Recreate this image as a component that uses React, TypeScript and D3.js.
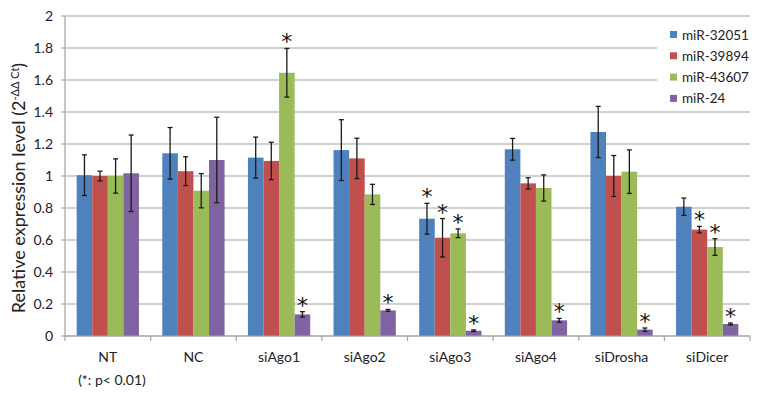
import React from "react";
import * as d3 from "d3";

const categories = ["NT", "NC", "siAgo1", "siAgo2", "siAgo3", "siAgo4", "siDrosha", "siDicer"];
const seriesNames = ["miR-32051", "miR-39894", "miR-43607", "miR-24"];
const colors = ["#4F81BD", "#C0504D", "#9BBB59", "#8064A2"];

const values32051 = [1.005, 1.142, 1.115, 1.162, 0.733, 1.167, 1.275, 0.808];
const values39894 = [1.0, 1.03, 1.094, 1.11, 0.614, 0.954, 1.0, 0.665];
const values43607 = [1.0, 0.908, 1.645, 0.885, 0.642, 0.925, 1.027, 0.556];
const values24 = [1.017, 1.1, 0.135, 0.16, 0.033, 0.098, 0.04, 0.075];

const err32051 = [0.127, 0.161, 0.128, 0.19, 0.096, 0.068, 0.16, 0.054];
const err39894 = [0.03, 0.09, 0.117, 0.126, 0.12, 0.035, 0.128, 0.02];
const err43607 = [0.107, 0.107, 0.152, 0.063, 0.027, 0.082, 0.136, 0.052];
const err24 = [0.239, 0.267, 0.017, 0.006, 0.005, 0.012, 0.01, 0.006];

const sig32051 = [0, 0, 0, 0, 1, 0, 0, 0];
const sig39894 = [0, 0, 0, 0, 1, 0, 0, 1];
const sig43607 = [0, 0, 1, 0, 1, 0, 0, 1];
const sig24 = [0, 0, 1, 1, 1, 1, 1, 1];

const yTicks = [0, 0.2, 0.4, 0.6, 0.8, 1, 1.2, 1.4, 1.6, 1.8, 2];
const yTickLabels = ["0", "0.2", "0.4", "0.6", "0.8", "1", "1.2", "1.4", "1.6", "1.8", "2"];

const allValues = [values32051, values39894, values43607, values24];
const allErrs = [err32051, err39894, err43607, err24];
const allSig = [sig32051, sig39894, sig43607, sig24];

const FONT = "Lato, 'Open Sans', sans-serif";

export default function App() {
  const W = 764, H = 400;
  const left = 65, right = 750, top = 16, bottom = 336;
  const x = d3.scaleBand<string>().domain(categories).range([left, right]).paddingInner(0).paddingOuter(0);
  const y = d3.scaleLinear().domain([0, 2]).range([bottom, top]);
  const step = x.bandwidth();
  const barW = step / 5.5;
  const offset = step * 0.75 / 5.5;

  const gridColor = "#A3A3A3";

  return (
    <svg width={W} height={H} style={{ position: "absolute", left: 0, top: 0, background: "#fff" }}>
      <rect x={0} y={0} width={W} height={H} fill="#fff" />
      {yTicks.map((t, i) => (
        <g key={"g" + i}>
          <line x1={left - 4} x2={right} y1={y(t)} y2={y(t)} stroke={gridColor} strokeWidth={1.2} />
          <text x={53} y={y(t) + 5} textAnchor="end" fontFamily={FONT} fontSize={14} fill="#222">
            {yTickLabels[i]}
          </text>
        </g>
      ))}
      <line x1={left} x2={left} y1={top} y2={bottom} stroke={gridColor} strokeWidth={1.2} />
      {d3.range(categories.length + 1).map((i) => (
        <line key={"xt" + i} x1={left + i * step} x2={left + i * step} y1={bottom} y2={bottom + 5} stroke={gridColor} strokeWidth={1.2} />
      ))}
      <rect x={657} y={22} width={94} height={86} fill="#fff" />
      {categories.map((c, ci) =>
        allValues.map((vals, si) => {
          const bx = (x(c) as number) + offset + si * barW;
          const v = vals[ci];
          const e = allErrs[si][ci];
          const cx = bx + barW / 2;
          const yt = y(v + e), yb = y(v - e);
          return (
            <g key={c + si}>
              <rect x={bx} y={y(v)} width={barW} height={bottom - y(v)} fill={colors[si]} />
              <line x1={cx} x2={cx} y1={yt} y2={yb} stroke="#1a1a1a" strokeWidth={1.3} />
              <line x1={cx - 2.5} x2={cx + 2.5} y1={yt} y2={yt} stroke="#1a1a1a" strokeWidth={1.3} />
              <line x1={cx - 2.5} x2={cx + 2.5} y1={yb} y2={yb} stroke="#1a1a1a" strokeWidth={1.3} />
              {allSig[si][ci] ? (
                <text x={cx} y={yt + 1} textAnchor="middle" fontFamily="'DejaVu Sans', sans-serif" fontSize={22} fill="#111">
                  *
                </text>
              ) : null}
            </g>
          );
        })
      )}
      <line x1={left} x2={right} y1={bottom} y2={bottom} stroke={gridColor} strokeWidth={1.2} />
      {categories.map((c) => (
        <text key={"xl" + c} x={(x(c) as number) + step / 2} y={362} textAnchor="middle" fontFamily={FONT} fontSize={14} fill="#222">
          {c}
        </text>
      ))}
      <text x={112} y={385} textAnchor="middle" fontFamily={FONT} fontSize={14} fill="#222">
        (*: p&lt; 0.01)
      </text>
      {seriesNames.map((s, i) => (
        <g key={"lg" + i}>
          <rect x={670} y={31 + i * 21.3} width={7} height={7} fill={colors[i]} />
          <text x={682} y={39.5 + i * 21.3} fontFamily={FONT} fontSize={13.5} fill="#222">
            {s}
          </text>
        </g>
      ))}
      <text transform="translate(25,188) rotate(-90)" textAnchor="middle" fontFamily={FONT} fontSize={18} fill="#222">
        Relative expression level (2
        <tspan dy={-6} fontSize={11}>-ΔΔ Ct</tspan>
        <tspan dy={6}>)</tspan>
      </text>
    </svg>
  );
}
